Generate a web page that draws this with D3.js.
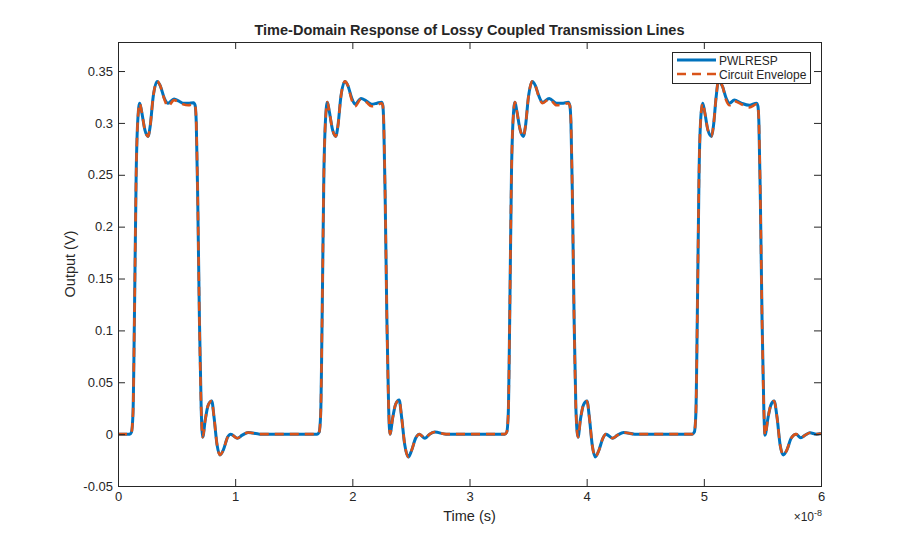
<!DOCTYPE html>
<html>
<head>
<meta charset="utf-8">
<script src="https://cdn.jsdelivr.net/npm/d3@7"></script>
<style>
  body { margin: 0; background: #fff; }
  text { font-family: "Liberation Sans", Arial, sans-serif; fill: #262626; }
</style>
</head>
<body>
<svg id="chart"></svg>
<script>
// time in units of 1e-8 s, output in volts
var pwlPulse1 = [[0,0],[0.10,0],[0.115,0.002],[0.128,0.02],[0.14,0.11],[0.155,0.25],[0.17,0.305],[0.185,0.319],
  [0.20,0.312],[0.23,0.293],[0.256,0.287],[0.275,0.297],[0.30,0.325],[0.335,0.340],[0.36,0.336],[0.395,0.324],
  [0.427,0.319],[0.478,0.323],[0.52,0.321],[0.555,0.319],[0.60,0.319],[0.645,0.3195],[0.658,0.317],[0.668,0.30],
  [0.68,0.23],[0.695,0.11],[0.71,0.025],[0.723,-0.003],[0.745,0.014],[0.77,0.028],[0.80,0.032],[0.82,0.016],
  [0.845,-0.010],[0.87,-0.020],[0.90,-0.015],[0.935,-0.003],[0.962,0.000],[1.018,-0.004],[1.06,-0.001],
  [1.112,0.0016],[1.21,0.000],[1.70,0]];
var pwlPulse2 = [[1.717,0.002],[1.73,0.02],[1.742,0.11],[1.757,0.25],[1.772,0.305],[1.787,0.320],
  [1.802,0.312],[1.832,0.293],[1.858,0.287],[1.877,0.297],[1.902,0.325],[1.937,0.340],[1.962,0.336],[1.995,0.324],
  [2.023,0.318],[2.074,0.3236],[2.12,0.321],[2.165,0.318],[2.21,0.319],[2.25,0.320],[2.26,0.317],[2.268,0.30],
  [2.28,0.23],[2.295,0.11],[2.31,0.025],[2.321,0.000],[2.345,0.016],[2.37,0.029],[2.40,0.0328],[2.42,0.017],
  [2.447,-0.010],[2.478,-0.022],[2.505,-0.016],[2.54,-0.004],[2.572,0.000],[2.62,-0.004],[2.66,0.000],
  [2.705,0.002],[2.80,0.000],[3.30,0]];
var pwlPulse3 = [[3.318,0.002],[3.331,0.02],[3.343,0.11],[3.358,0.25],[3.373,0.305],[3.388,0.320],
  [3.403,0.312],[3.433,0.293],[3.459,0.287],[3.478,0.297],[3.503,0.325],[3.536,0.340],[3.562,0.336],[3.595,0.325],
  [3.624,0.320],[3.68,0.3236],[3.743,0.319],[3.80,0.319],[3.843,0.320],[3.856,0.317],[3.866,0.30],
  [3.878,0.23],[3.893,0.11],[3.908,0.025],[3.926,-0.003],[3.948,0.015],[3.972,0.028],[4.003,0.032],[4.023,0.016],
  [4.048,-0.011],[4.073,-0.022],[4.103,-0.016],[4.138,-0.004],[4.165,0.000],[4.221,-0.004],[4.263,-0.001],
  [4.315,0.0016],[4.41,0.000],[4.90,0]];
var pwlPulse4 = [[4.919,0.002],[4.932,0.02],[4.944,0.11],[4.959,0.25],[4.974,0.305],[4.99,0.319],
  [5.005,0.312],[5.035,0.293],[5.066,0.287],[5.082,0.297],[5.105,0.325],[5.124,0.340],[5.16,0.335],[5.19,0.324],
  [5.22,0.319],[5.26,0.322],[5.32,0.319],[5.39,0.317],[5.45,0.319],[5.462,0.316],[5.47,0.30],
  [5.482,0.23],[5.497,0.11],[5.512,0.025],[5.522,-0.001],[5.548,0.016],[5.572,0.028],[5.60,0.032],[5.625,0.016],
  [5.652,-0.011],[5.678,-0.020],[5.71,-0.015],[5.745,-0.004],[5.787,0.000],[5.827,-0.0035],[5.865,-0.001],
  [5.906,0.0013],[5.96,0.000],[6.00,0.0007]];

var envPulse1 = [[0,0],[0.10,0],[0.115,0.002],[0.128,0.02],[0.14,0.11],[0.155,0.25],[0.17,0.305],[0.185,0.319],
  [0.20,0.312],[0.23,0.293],[0.256,0.287],[0.275,0.297],[0.30,0.325],[0.335,0.340],[0.36,0.336],[0.395,0.323],
  [0.427,0.316],[0.478,0.322],[0.52,0.320],[0.555,0.318],[0.60,0.317],[0.645,0.318],[0.658,0.317],[0.668,0.30],
  [0.68,0.23],[0.695,0.11],[0.71,0.025],[0.723,-0.003],[0.745,0.014],[0.77,0.028],[0.80,0.032],[0.82,0.016],
  [0.845,-0.010],[0.87,-0.020],[0.90,-0.015],[0.935,-0.003],[0.962,0.000],[1.018,-0.004],[1.06,-0.001],
  [1.112,0.0016],[1.21,0.000],[1.70,0]];
var envPulse2 = [[1.717,0.002],[1.73,0.02],[1.742,0.11],[1.757,0.25],[1.772,0.305],[1.787,0.320],
  [1.802,0.312],[1.832,0.293],[1.858,0.287],[1.877,0.297],[1.902,0.325],[1.937,0.340],[1.962,0.336],[1.995,0.322],
  [2.023,0.316],[2.074,0.323],[2.12,0.320],[2.165,0.316],[2.21,0.317],[2.25,0.319],[2.26,0.317],[2.268,0.30],
  [2.28,0.23],[2.295,0.11],[2.31,0.025],[2.321,0.000],[2.345,0.016],[2.37,0.029],[2.40,0.0328],[2.42,0.017],
  [2.447,-0.010],[2.478,-0.022],[2.505,-0.016],[2.54,-0.004],[2.572,0.000],[2.62,-0.004],[2.66,0.000],
  [2.705,0.002],[2.80,0.000],[3.30,0]];
var envPulse3 = [[3.318,0.002],[3.331,0.02],[3.343,0.11],[3.358,0.25],[3.373,0.305],[3.388,0.320],
  [3.403,0.312],[3.433,0.293],[3.459,0.287],[3.478,0.297],[3.503,0.325],[3.536,0.340],[3.562,0.336],[3.595,0.324],
  [3.624,0.319],[3.68,0.323],[3.743,0.317],[3.80,0.318],[3.843,0.319],[3.856,0.317],[3.866,0.30],
  [3.878,0.23],[3.893,0.11],[3.908,0.025],[3.926,-0.003],[3.948,0.015],[3.972,0.028],[4.003,0.032],[4.023,0.016],
  [4.048,-0.011],[4.073,-0.022],[4.103,-0.016],[4.138,-0.004],[4.165,0.000],[4.221,-0.004],[4.263,-0.001],
  [4.315,0.0016],[4.41,0.000],[4.90,0]];
var envPulse4 = [[4.919,0.002],[4.932,0.02],[4.944,0.11],[4.959,0.25],[4.974,0.305],[4.99,0.319],
  [5.005,0.312],[5.035,0.293],[5.066,0.287],[5.082,0.297],[5.105,0.325],[5.124,0.340],[5.16,0.335],[5.19,0.322],
  [5.22,0.317],[5.26,0.321],[5.32,0.318],[5.39,0.315],[5.45,0.318],[5.462,0.316],[5.47,0.30],
  [5.482,0.23],[5.497,0.11],[5.512,0.025],[5.522,-0.001],[5.548,0.016],[5.572,0.028],[5.60,0.032],[5.625,0.016],
  [5.652,-0.011],[5.678,-0.020],[5.71,-0.015],[5.745,-0.004],[5.787,0.000],[5.827,-0.0035],[5.865,-0.001],
  [5.906,0.0013],[5.96,0.000],[6.00,0.0007]];

var seriesNames = ["PWLRESP", "Circuit Envelope"];
var xTicks = [0, 1, 2, 3, 4, 5, 6];
var yTicks = [-0.05, 0, 0.05, 0.1, 0.15, 0.2, 0.25, 0.3, 0.35];
var yTickLabels = ["-0.05", "0", "0.05", "0.1", "0.15", "0.2", "0.25", "0.3", "0.35"];

var pwl = pwlPulse1.concat(pwlPulse2, pwlPulse3, pwlPulse4);
var env = envPulse1.concat(envPulse2, envPulse3, envPulse4);

var svgWidth = 908, svgHeight = 546;
var plotLeft = 118, plotRight = 821, plotTop = 42, plotBottom = 486;
var axisColor = "#262626";

var svg = d3.select('#chart')
    .attr("width", svgWidth)
    .attr("height", svgHeight);

var x = d3.scaleLinear().domain([0, 6]).range([plotLeft, plotRight]);
var y = d3.scaleLinear().domain([-0.05, 0.378]).range([plotBottom, plotTop]);

svg.append("clipPath").attr("id", "clip")
  .append("rect")
    .attr("x", plotLeft).attr("y", plotTop)
    .attr("width", plotRight - plotLeft).attr("height", plotBottom - plotTop);

var line = d3.line()
    .x(function(d) { return x(d[0]); })
    .y(function(d) { return y(d[1]); })
    .curve(d3.curveMonotoneX);

var plot = svg.append("g").attr("clip-path", "url(#clip)");

plot.append("path")
    .datum(pwl)
    .attr("d", line)
    .attr("fill", "none")
    .attr("stroke", "#0072BD")
    .attr("stroke-width", 3)
    .attr("stroke-linejoin", "round");

plot.append("path")
    .datum(env)
    .attr("d", line)
    .attr("fill", "none")
    .attr("stroke", "#D95319")
    .attr("stroke-width", 2.6)
    .attr("stroke-dasharray", "9,6");

// axes, MATLAB style box with inward ticks
function styleAxis(g) {
    g.selectAll("path, line").attr("stroke", axisColor).attr("stroke-width", 1);
    g.selectAll("text").attr("fill", axisColor)
        .style("font-size", "13px")
        .style("font-family", '"Liberation Sans", Arial, sans-serif');
}

svg.append("g")
    .attr("transform", "translate(0," + plotBottom + ")")
    .call(d3.axisBottom(x).tickValues(xTicks).tickSizeInner(-7).tickSizeOuter(0).tickPadding(6)
        .tickFormat(function(d) { return String(d); }))
    .call(styleAxis);

svg.append("g")
    .attr("transform", "translate(0," + plotTop + ")")
    .call(d3.axisTop(x).tickValues(xTicks).tickSizeInner(-7).tickSizeOuter(0).tickFormat(""))
    .call(styleAxis);

svg.append("g")
    .attr("transform", "translate(" + plotLeft + ",0)")
    .call(d3.axisLeft(y).tickValues(yTicks).tickSizeInner(-7).tickSizeOuter(0).tickPadding(5)
        .tickFormat(function(d, i) { return yTickLabels[i]; }))
    .call(styleAxis);

svg.append("g")
    .attr("transform", "translate(" + plotRight + ",0)")
    .call(d3.axisRight(y).tickValues(yTicks).tickSizeInner(-7).tickSizeOuter(0).tickFormat(""))
    .call(styleAxis);

svg.selectAll(".domain").attr("shape-rendering", "crispEdges");

// exponent
var expo = svg.append("text")
    .attr("x", plotRight + 1).attr("y", 521)
    .attr("text-anchor", "end")
    .style("font-size", "12px");
expo.append("tspan").text("×10");
expo.append("tspan").attr("dy", -5).style("font-size", "9px").text("-8");

// title and labels
svg.append("text")
    .attr("x", (plotLeft + plotRight) / 2).attr("y", 35)
    .attr("text-anchor", "middle")
    .style("font-size", "14.5px").style("font-weight", "bold")
    .text("Time-Domain Response of Lossy Coupled Transmission Lines");

svg.append("text")
    .attr("x", (plotLeft + plotRight) / 2).attr("y", 521)
    .attr("text-anchor", "middle")
    .style("font-size", "14.5px")
    .text("Time (s)");

svg.append("text")
    .attr("transform", "translate(75," + ((plotTop + plotBottom) / 2) + ") rotate(-90)")
    .attr("text-anchor", "middle")
    .style("font-size", "14.5px")
    .text("Output (V)");

// legend
var legend = svg.append("g");
legend.append("rect")
    .attr("x", 672.5).attr("y", 52.5)
    .attr("width", 138).attr("height", 31)
    .attr("fill", "#fff")
    .attr("stroke", axisColor).attr("stroke-width", 1);

var legendStyles = [
    { color: "#0072BD", width: 3, dash: null },
    { color: "#D95319", width: 2.6, dash: "9,6" }
];
seriesNames.forEach(function(name, i) {
    var ly = 60 + i * 14;
    legend.append("line")
        .attr("x1", 677).attr("x2", 716)
        .attr("y1", ly).attr("y2", ly)
        .attr("stroke", legendStyles[i].color)
        .attr("stroke-width", legendStyles[i].width)
        .attr("stroke-dasharray", legendStyles[i].dash);
    legend.append("text")
        .attr("x", 719).attr("y", ly + 4.5)
        .style("font-size", "12px")
        .text(name);
});
</script>
</body>
</html>
